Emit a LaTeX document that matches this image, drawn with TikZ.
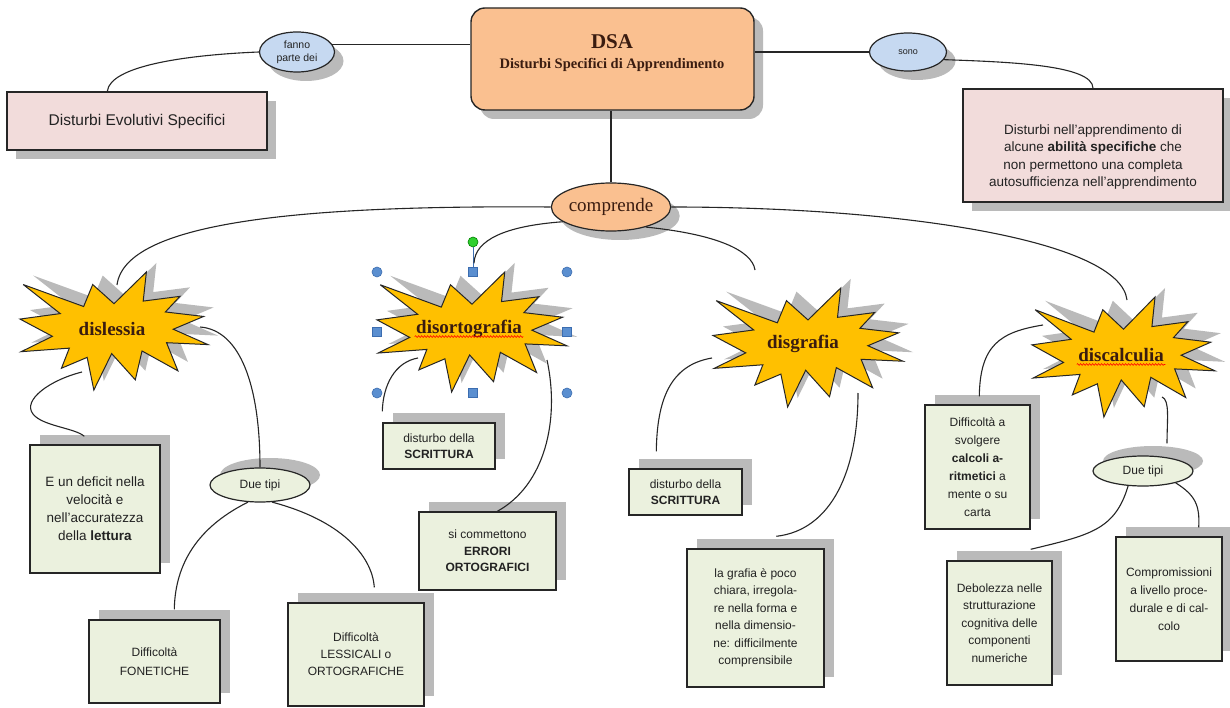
\documentclass[tikz,border=0pt]{standalone}
\usepackage{fontspec}
\setmainfont{Liberation Serif}
\setsansfont{Liberation Sans}
\usetikzlibrary{shapes.geometric,shadows,decorations.pathmorphing,calc}
\definecolor{orangef}{HTML}{FAC090}
\definecolor{pinkf}{HTML}{F2DCDB}
\definecolor{bluef}{HTML}{C6D9F1}
\definecolor{greenf}{HTML}{EBF1DE}
\definecolor{starf}{HTML}{FFC000}
\definecolor{shadowc}{HTML}{BABABA}
\definecolor{linec}{HTML}{262626}
\definecolor{txtc}{HTML}{222222}
\definecolor{startxt}{HTML}{3A1C10}
\definecolor{handlef}{HTML}{5B8FD0}
\definecolor{handled}{HTML}{3C6DB0}
\definecolor{greenh}{HTML}{2FD02F}
\tikzset{
  boom/.pic={\path[pic actions] (0.5,0.2685) -- (0.6723,0) -- (0.6553,0.2465) -- (0.8509,0.2063) -- (0.7732,0.3387) -- (0.9767,0.3767) -- (0.8151,0.4850) -- (1.0,0.6153) -- (0.7795,0.5992) -- (0.8400,0.8377) -- (0.6491,0.6693) -- (0.6133,0.9138) -- (0.4876,0.6914) -- (0.3928,1.0) -- (0.3572,0.7235) -- (0.2205,0.8156) -- (0.2624,0.6452) -- (0.00625,0.6753) -- (0.1723,0.5451) -- (0,0.3988) -- (0.2142,0.3526) -- (0.0171,0.1063) -- (0.3385,0.2926) -- (0.3867,0.1063) -- cycle;},
  shadowDR/.style={general shadow={shadow xshift=9pt, shadow yshift=-9pt, fill=shadowc}},
  shadowUR/.style={general shadow={shadow xshift=10pt, shadow yshift=10pt, fill=shadowc}},
  pinkbox/.style={rectangle, draw=linec, line width=1.4pt, fill=pinkf, shadowDR, inner sep=0pt, text=txtc, align=center},
  greenbox/.style={rectangle, draw=linec, line width=1.4pt, fill=greenf, shadowUR, inner sep=0pt, text=txtc, align=center, font=\sffamily\fontsize{12}{17}\selectfont},
  oval/.style={ellipse, draw=linec, line width=1.2pt, inner sep=0pt, text=txtc, align=center},
  startext/.style={font=\bfseries\fontsize{19}{22}\selectfont, text=startxt},
  conn/.style={draw=linec, line width=1.1pt},
  starshadow/.style={fill=shadowc},
  starbody/.style={fill=starf, draw=linec, line width=1pt, line join=miter, miter limit=6},
  spell/.style={draw=red, line width=0.6pt, decorate, decoration={snake, amplitude=0.9pt, segment length=3pt}},
  hcirc/.style={circle, fill=handlef, draw=handled, line width=0.6pt, minimum size=10pt, inner sep=0pt},
  hsq/.style={rectangle, fill=handlef, draw=handled, line width=0.6pt, minimum size=9pt, inner sep=0pt},
}
\begin{document}
\begin{tikzpicture}[x=1pt,y=-1pt]
\fill[white] (0,0) rectangle (1230,708);
\useasboundingbox (0,0) rectangle (1230,708);

% top part
\node[rectangle, rounded corners=14pt, draw=linec, line width=1.4pt, fill=orangef, shadowDR, minimum width=283pt, minimum height=102pt] (dsa) at (612.5,59) {};
\node[font=\bfseries\fontsize{21}{24}\selectfont, text=startxt] (dsat1) at (612,42) {DSA};
\node[font=\bfseries\fontsize{14.5}{17}\selectfont, text=startxt] (dsat2) at (612,65) {Disturbi Specifici di Apprendimento};

\node[oval, fill=bluef, shadowDR, minimum width=75pt, minimum height=40pt, font=\sffamily\fontsize{10.5}{13}\selectfont] (fanno) at (297,52) {fanno\\parte dei};
\node[oval, fill=bluef, shadowDR, minimum width=77pt, minimum height=38pt, font=\sffamily\fontsize{9}{11}\selectfont] (sono) at (908,52) {sono};

\node[pinkbox, minimum width=260pt, minimum height=58pt, font=\sffamily\fontsize{15.5}{18}\selectfont] (des) at (137,121) {Disturbi Evolutivi Specifici};
\node[pinkbox, minimum width=260pt, minimum height=113pt] (rbox) at (1093,145.5) {};
\node[font=\sffamily\fontsize{13.5}{17.5}\selectfont, align=center, text=txtc] (rboxt) at (1093,157) {Disturbi nell'apprendimento di\\alcune \textbf{abilità specifiche} che\\non permettono una completa\\autosufficienza nell'apprendimento};

\node[oval, fill=orangef, shadowDR, minimum width=112pt, minimum height=48pt, font=\fontsize{19}{22}\selectfont, text=startxt] (comp) at (611,207) {comprende};

% stars
\pic[starshadow, xscale=188, yscale=118] at (30,263) {boom};
\pic[starbody, xscale=188, yscale=118] at (20,272) {boom};
\pic[starshadow, xscale=190, yscale=120] at (387,263) {boom};
\pic[starbody, xscale=190, yscale=120] at (377,272) {boom};
\pic[starshadow, xscale=190, yscale=119] at (723,279) {boom};
\pic[starbody, xscale=190, yscale=119] at (713,288) {boom};
\pic[starshadow, xscale=183, yscale=120] at (1042,288) {boom};
\pic[starbody, xscale=183, yscale=120] at (1032,297) {boom};

\node[startext] (s1) at (112,329) {dislessia};
\node[startext] (s2) at (469,329) {disortografia};
\node[startext] (s3) at (803,344) {disgrafia};
\node[startext] (s4) at (1121,355) {discalculia};
\draw[spell] ($(s2.base west)+(2,3)$) -- ($(s2.base east)+(-2,3)$);
\draw[spell] ($(s4.base west)+(2,3)$) -- ($(s4.base east)+(-2,3)$);

% lower boxes
\node[greenbox, minimum width=130pt, minimum height=128pt, font=\sffamily\fontsize{13.5}{18}\selectfont] (b1) at (95,509) {E un deficit nella\\velocità e\\nell'accuratezza\\della \textbf{lettura}};
\node[oval, fill=greenf, shadowUR, minimum width=100pt, minimum height=34pt, font=\sffamily\fontsize{12}{14}\selectfont] (dt1) at (260,485) {Due tipi};
\node[greenbox, minimum width=131pt, minimum height=83pt, font=\sffamily\fontsize{12}{19}\selectfont] (b3) at (154.5,661.5) {Difficoltà\\FONETICHE};
\node[greenbox, minimum width=136pt, minimum height=103pt] (b4) at (356,654.5) {Difficoltà\\LESSICALI o\\ORTOGRAFICHE};
\node[greenbox, minimum width=112pt, minimum height=46pt, font=\sffamily\fontsize{12}{16}\selectfont] (b5) at (439,446) {disturbo della\\\textbf{SCRITTURA}};
\node[greenbox, minimum width=137pt, minimum height=78pt, font=\sffamily\fontsize{12}{16.5}\selectfont] (b6) at (487.5,551) {si commettono\\\textbf{ERRORI}\\\textbf{ORTOGRAFICI}};
\node[greenbox, minimum width=113pt, minimum height=46pt, font=\sffamily\fontsize{12}{16}\selectfont] (b7) at (685.5,492) {disturbo della\\\textbf{SCRITTURA}};
\node[greenbox, minimum width=137pt, minimum height=138pt, font=\sffamily\fontsize{12}{17.5}\selectfont] (b8) at (755.5,618) {la grafia è poco\\chiara, irregola-\\re nella forma e\\nella dimensio-\\ne: difficilmente\\comprensibile};
\node[greenbox, minimum width=105pt, minimum height=124pt, font=\sffamily\fontsize{12}{18}\selectfont] (b9) at (977.5,467) {Difficoltà a\\svolgere\\\textbf{calcoli a-}\\\textbf{ritmetici} a\\mente o su\\carta};
\node[oval, fill=greenf, shadowUR, minimum width=100pt, minimum height=30pt, font=\sffamily\fontsize{12}{14}\selectfont] (dt2) at (1143,471) {Due tipi};
\node[greenbox, minimum width=105pt, minimum height=124pt, font=\sffamily\fontsize{12}{17.5}\selectfont] (b11) at (999.5,623) {Debolezza nelle\\strutturazione\\cognitiva delle\\componenti\\numeriche};
\node[greenbox, minimum width=106pt, minimum height=124pt, font=\sffamily\fontsize{12}{18}\selectfont] (b12) at (1169,599) {Compromissioni\\a livello proce-\\durale e di cal-\\colo};

% star edge points
\coordinate (s1top) at (117,285);
\coordinate (s1a) at (82,372);
\coordinate (s1b) at (200,327);
\coordinate (s2a) at (418,358);
\coordinate (s2b) at (547,360);
\coordinate (s3top) at (755,270);
\coordinate (s3a) at (712,358);
\coordinate (s3b) at (858,393);
\coordinate (s4top) at (1127,300);
\coordinate (s4a) at (1043,325);
\coordinate (s4b) at (1162,397);

% selection handles
\node[hsq] (h2) at (473,272) {};
\node[hcirc, fill=greenh, draw=green!50!black] (hg) at (473,242) {};
\draw[handled, line width=0.8pt] (hg) -- (h2);
\node[hcirc] (h1) at (377,272) {};
\node[hcirc] (h3) at (567,272) {};
\node[hsq] (h4) at (377,332) {};
\node[hsq] (h5) at (567,332) {};
\node[hcirc] (h6) at (377,393) {};
\node[hsq] (h7) at (473,393) {};
\node[hcirc] (h8) at (567,393) {};

% connectors
\draw[conn] (fanno.12) -- (fanno.12 -| dsa.west);
\draw[conn] (fanno.west) .. controls (185,55) and (110,66) .. ($(des.north west)+(101,0)$);
\draw[conn] (sono.west) -- (sono.west -| dsa.east);
\draw[conn] (sono.-12) .. controls (1010,62) and (1093,65) .. (rbox.north);
\draw[conn] (comp.north) -- (comp.north |- dsa.south);
\draw[conn] (comp.west) .. controls (300,205) and (125,222) .. (s1top);
\draw[conn] (comp.east) .. controls (900,207) and (1120,240) .. (s4top);
\draw[conn] (comp.197) .. controls (505,226) and (475,240) .. ($(h2.north)+(1,-4)$);
\draw[conn] (comp.-30) .. controls (715,234) and (752,250) .. (s3top);

\draw[conn] (s1a) .. controls (50,380) and (22,400) .. (33,414) .. controls (42,426) and (75,428) .. ($(b1.north west)+(55,-8)$);
\draw[conn] (s1b) .. controls (240,330) and (260,385) .. (dt1.north);
\draw[conn] (dt1.235) .. controls (192,530) and (175,570) .. ($(b3.north west)+(86,-10)$);
\draw[conn] (dt1.-55) .. controls (340,520) and (372,555) .. ($(b4.north west)+(87,-15)$);
\draw[conn] (s2a) .. controls (395,362) and (383,385) .. ($(b5.north west)+(0,-11)$);
\draw[conn] (s2b) .. controls (560,420) and (545,485) .. ($(b6.north west)+(79,0)$);
\draw[conn] (s3a) .. controls (670,365) and (657,400) .. ($(b7.north west)+(28,-17)$);
\draw[conn] (s3b) .. controls (858,470) and (832,530) .. ($(b8.north west)+(90,-12)$);
\draw[conn] (s4a) .. controls (1000,332) and (980,345) .. ($(b9.north west)+(55,-8)$);
\draw[conn] (s4b) .. controls (1170,400) and (1167,420) .. ($(dt2.north)+(24,-12)$);
\draw[conn] (dt2.-135) .. controls (1115,530) and (1090,535) .. ($(b11.north east)+(-22,-11)$);
\draw[conn] (dt2.-20) .. controls (1195,495) and (1200,505) .. ($(b12.north east)+(-24,-9)$);
\end{tikzpicture}
\end{document}
